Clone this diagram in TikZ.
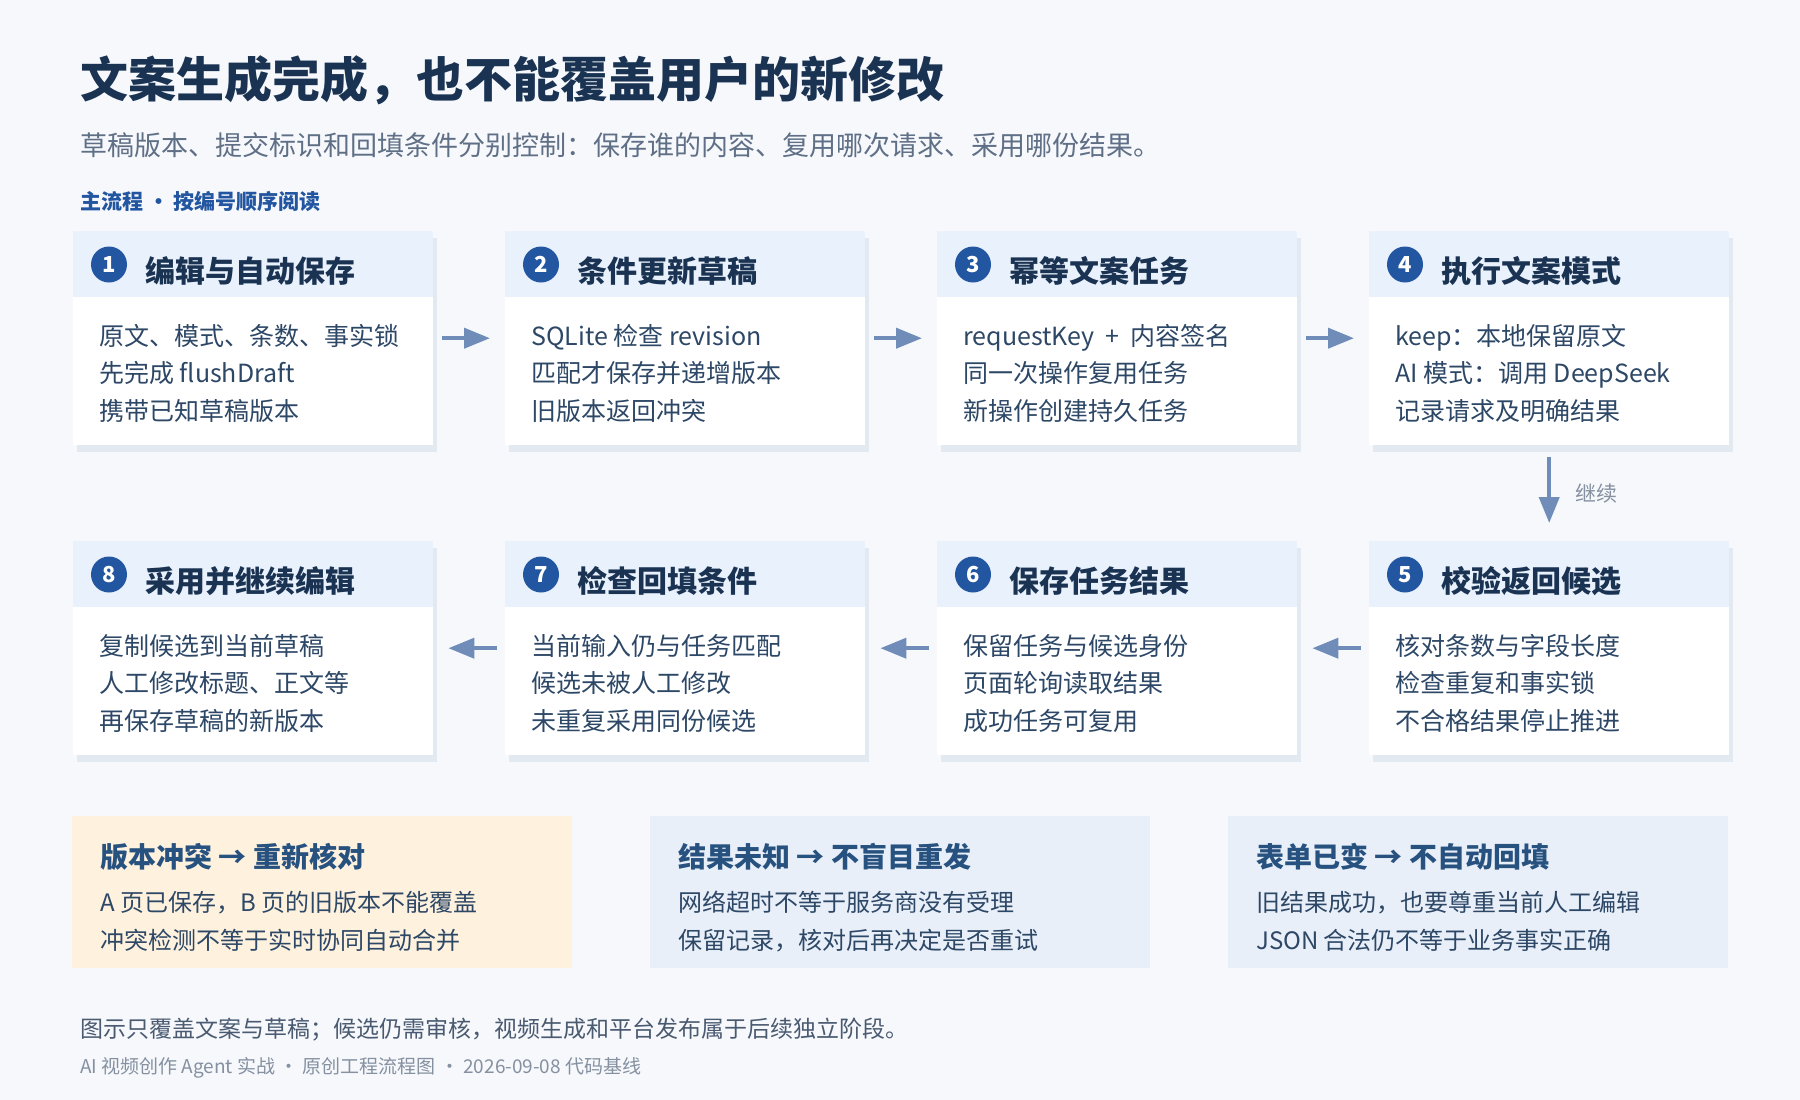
\documentclass[tikz,border=0pt]{standalone}
\usepackage{fontspec}
\setmainfont{Noto Sans CJK SC}
\usepackage{xcolor}
\usepackage{tikz}
\usetikzlibrary{arrows.meta}

\definecolor{bgcol}{HTML}{F6F8FC}
\definecolor{headcol}{HTML}{E9F1FC}
\definecolor{shadowcol}{HTML}{E3E9F1}
\definecolor{titlecol}{HTML}{1A3352}
\definecolor{bodycol}{HTML}{2D4766}
\definecolor{numcol}{HTML}{2356A0}
\definecolor{arrowcol}{HTML}{6F8DB8}
\definecolor{subcol}{HTML}{5F6F86}
\definecolor{warmcol}{HTML}{FEF1DE}
\definecolor{notecol}{HTML}{E8EFF8}
\definecolor{notetitle}{HTML}{27517F}
\definecolor{footcol}{HTML}{4A5A70}
\definecolor{metacol}{HTML}{8590A0}

\begin{document}
\begin{tikzpicture}[
	x=1pt, y=-1pt,
	stepbody/.style={shape=rectangle, fill=white, anchor=north west, inner sep=0pt, minimum width=360pt, minimum height=214pt},
	stephead/.style={shape=rectangle, fill=headcol, anchor=north west, inner sep=0pt, minimum width=360pt, minimum height=66pt},
	stepnum/.style={shape=circle, fill=numcol, text=white, inner sep=0pt, minimum size=36pt, font=\fontsize{22}{22}\selectfont\bfseries},
	steptitle/.style={anchor=west, inner sep=0pt, text=titlecol, font=\fontsize{30}{30}\selectfont\bfseries},
	steptext/.style={anchor=north west, inner sep=0pt, align=left, text=bodycol, font=\fontsize{25}{37.5}\selectfont},
	flowarrow/.style={line width=4pt, draw=arrowcol, -{Triangle[length=26pt, width=20pt]}},
	notebox/.style={shape=rectangle, anchor=north west, inner sep=0pt, minimum width=500pt, minimum height=152pt},
	notehead/.style={anchor=west, inner sep=0pt, text=notetitle, font=\fontsize{28}{28}\selectfont\bfseries},
	notetext/.style={anchor=north west, inner sep=0pt, align=left, text=bodycol, font=\fontsize{24}{38}\selectfont},
]
\fill[bgcol] (0,0) rectangle (1800,1100);
\useasboundingbox (0,0) rectangle (1800,1100);

% heading
\node[anchor=west, inner sep=0pt, text=titlecol, font=\fontsize{48}{48}\selectfont\bfseries] (title) at (80,80) {文案生成完成，也不能覆盖用户的新修改};
\node[anchor=west, inner sep=0pt, text=subcol, font=\fontsize{27}{27}\selectfont] (subtitle) at (80,145) {草稿版本、提交标识和回填条件分别控制：保存谁的内容、复用哪次请求、采用哪份结果。};
\node[anchor=west, inner sep=0pt, text=numcol, font=\fontsize{21}{21}\selectfont\bfseries] (flowlabel) at (80,201) {主流程 • 按编号顺序阅读};

% steps
\foreach \n/\x/\y/\ttl/\txt in {
	1/73/231/编辑与自动保存/{原文、模式、条数、事实锁\\先完成 flushDraft\\携带已知草稿版本},
	2/505/231/条件更新草稿/{SQLite 检查 revision\\匹配才保存并递增版本\\旧版本返回冲突},
	3/937/231/幂等文案任务/{requestKey \ + \ 内容签名\\同一次操作复用任务\\新操作创建持久任务},
	4/1369/231/执行文案模式/{keep：本地保留原文\\AI 模式：调用 DeepSeek\\记录请求及明确结果},
	5/1369/541/校验返回候选/{核对条数与字段长度\\检查重复和事实锁\\不合格结果停止推进},
	6/937/541/保存任务结果/{保留任务与候选身份\\页面轮询读取结果\\成功任务可复用},
	7/505/541/检查回填条件/{当前输入仍与任务匹配\\候选未被人工修改\\未重复采用同份候选},
	8/73/541/采用并继续编辑/{复制候选到当前草稿\\人工修改标题、正文等\\再保存草稿的新版本}}{
	\fill[shadowcol] (\x+4,\y+7) rectangle ++(360,214);
	\node[stepbody] (b\n) at (\x,\y) {};
	\node[stephead] (h\n) at (\x,\y) {};
	\node[stepnum] (n\n) at (\x+36,\y+33.5) {\n};
	\node[steptitle] (t\n) at (\x+72,\y+40) {\ttl};
	\node[steptext] (d\n) at (\x+26,\y+93) {\txt};
}

\draw[flowarrow, shorten <=9pt, shorten >=15pt] (b1.east) -- (b2.west);
\draw[flowarrow, shorten <=9pt, shorten >=15pt] (b2.east) -- (b3.west);
\draw[flowarrow, shorten <=9pt, shorten >=15pt] (b3.east) -- (b4.west);
\draw[flowarrow, shorten <=12pt, shorten >=18pt] (b4.south) -- node[anchor=west, xshift=24pt, inner sep=0pt, text=metacol, font=\fontsize{21}{21}\selectfont] (go) {继续} (b5.north);
\draw[flowarrow, shorten <=8pt, shorten >=15pt] (b5.west) -- (b6.east);
\draw[flowarrow, shorten <=8pt, shorten >=15pt] (b6.west) -- (b7.east);
\draw[flowarrow, shorten <=8pt, shorten >=15pt] (b7.west) -- (b8.east);

% notes
\foreach \m/\x/\fc/\ttl/\txt in {
	a/72/warmcol/{版本冲突 → 重新核对}/{A 页已保存，B 页的旧版本不能覆盖\\冲突检测不等于实时协同自动合并},
	b/650/notecol/{结果未知 → 不盲目重发}/{网络超时不等于服务商没有受理\\保留记录，核对后再决定是否重试},
	c/1228/notecol/{表单已变 → 不自动回填}/{旧结果成功，也要尊重当前人工编辑\\JSON 合法仍不等于业务事实正确}}{
	\node[notebox, fill=\fc] (note\m) at (\x,816) {};
	\node[notehead] (notehead\m) at (\x+28,857) {\ttl};
	\node[notetext] (notetext\m) at (\x+28,891) {\txt};
}

% footer
\node[anchor=west, inner sep=0pt, text=footcol, font=\fontsize{23}{23}\selectfont] (foot) at (80,1030) {图示只覆盖文案与草稿；候选仍需审核，视频生成和平台发布属于后续独立阶段。};
\node[anchor=west, inner sep=0pt, text=metacol, font=\fontsize{19}{19}\selectfont] (meta) at (80,1068) {AI 视频创作 Agent 实战 · 原创工程流程图 · 2026-09-08 代码基线};
\end{tikzpicture}
\end{document}
